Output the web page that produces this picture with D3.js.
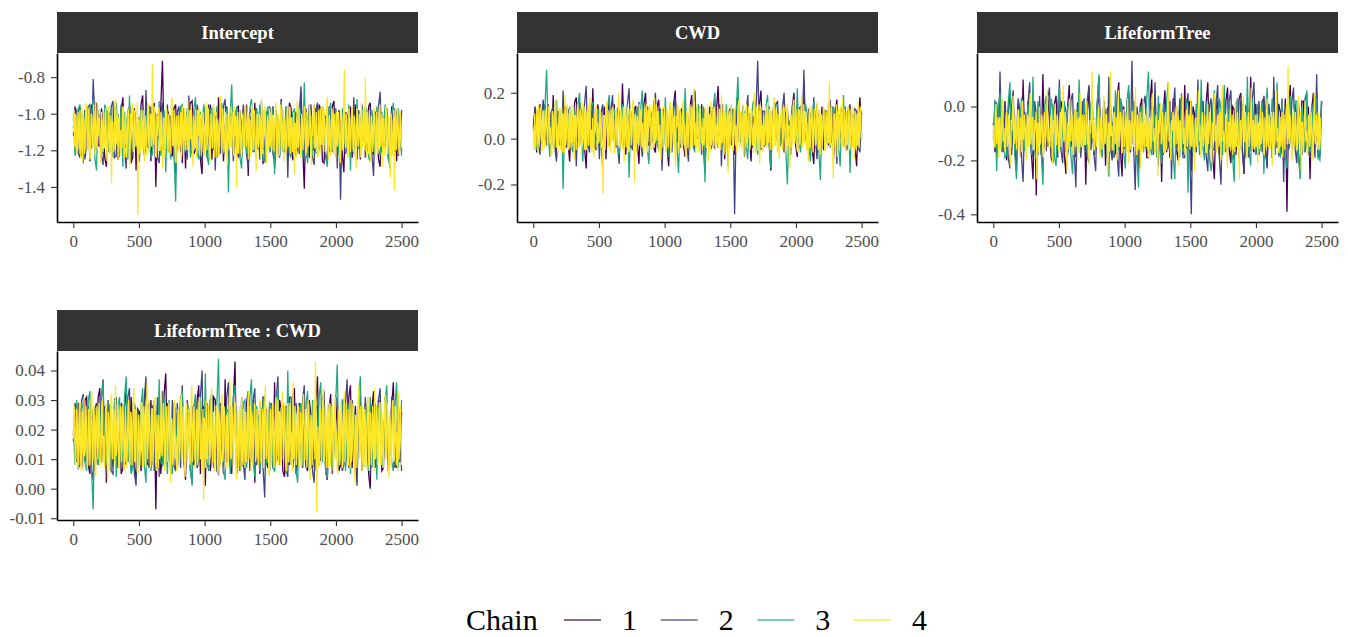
<!DOCTYPE html>
<html>
<head>
<meta charset="utf-8">
<script src="https://cdn.jsdelivr.net/npm/d3@7"></script>
<style>
  body { margin: 0; background: #fff; }
  svg { display: block; font-family: "Liberation Serif", "Times New Roman", serif; }
  svg text { font-family: "Liberation Serif", "Times New Roman", serif; }
</style>
</head>
<body>
<svg class="trace" width="1348" height="637"></svg>
<script>
const params = ["Intercept", "CWD", "LifeformTree", "LifeformTree : CWD"];
const chains = ["1", "2", "3", "4"];
const chainColors = ["#440154", "#414487", "#22A884", "#FDE725"];
const xTicks = [0, 500, 1000, 1500, 2000, 2500];
const nIter = 2500;

// y tick values / decimals per panel (same order as params)
const yTicks = [
  [-1.4, -1.2, -1.0, -0.8],
  [-0.2, 0.0, 0.2],
  [-0.4, -0.2, 0.0],
  [-0.01, 0.00, 0.01, 0.02, 0.03, 0.04]
];
const yDigits = [1, 1, 1, 2];

// draws. chains 1-3 ~every 12th iteration,
// chain 4 (drawn on top, it fills the band) ~every 5th
const interceptDraws = [
  [-1.08,-0.96,-1.21,-0.99,-0.97,-1.23,-1.15,-0.98,-1.19,-1.00,-1.26,-0.95,-1.02,-1.20,-0.94,-1.17,-1.18,-0.97,-1.05,-1.24,
   -1.29,-0.99,-1.00,-1.21,-1.13,-0.96,-1.09,-1.25,-1.22,-0.98,-0.91,-1.19,-1.16,-1.01,-0.96,-1.27,-1.24,-0.97,-1.31,-1.02,
   -1.12,-0.95,-0.90,-1.22,-1.19,-0.99,-1.03,-1.26,-1.06,-0.94,-1.40,-1.00,-1.14,-0.96,-0.71,-1.18,-1.14,-0.98,-1.01,-1.23,
   -1.23,-0.97,-0.95,-1.20,-1.10,-0.96,-1.27,-1.01,-1.30,-0.99,-1.17,-0.94,-0.93,-1.22,-1.20,-0.98,-1.09,-1.25,-1.33,-1.00,
   -0.98,-1.21,-1.13,-0.95,-1.25,-0.99,-1.02,-1.24,-0.91,-1.17,-0.99,-1.26,-1.07,-0.96,-1.28,-1.01,-1.00,-1.22,-1.15,-0.97,
   -0.96,-1.23,-1.22,-0.98,-1.11,-0.95,-1.34,-1.02,-1.03,-1.20,-0.94,-1.18,-1.19,-0.97,-1.08,-1.27,-1.26,-1.00,-0.99,-1.21,
   -1.14,-0.96,-1.30,-1.01,-1.05,-1.23,-0.92,-1.19,-1.21,-0.98,-1.10,-0.94,-0.97,-1.25,-1.24,-0.99,-1.02,-1.22,-0.89,-1.17,
   -1.41,-1.00,-1.06,-1.24,-0.95,-1.19,-1.20,-0.97,-1.12,-0.95,-0.98,-1.26,-1.27,-1.01,-1.04,-1.21,-1.17,-0.96,-0.93,-1.23,
   -1.23,-0.98,-1.09,-1.22,-1.32,-0.99,-1.01,-1.20,-0.96,-1.24,-1.18,-0.95,-1.13,-1.00,-1.25,-0.97,-1.00,-1.19,-1.15,-0.96,
   -0.94,-1.21,-1.22,-0.99,-1.07,-1.25,-1.29,-1.00,-1.03,-1.18,-0.97,-1.23,-1.19,-0.96,-1.11,-0.98,-1.26,-1.01,-1.05,-1.20],
  [-1.12,-0.97,-0.98,-1.22,-1.24,-1.00,-1.06,-1.25,-1.17,-0.96,-0.95,-1.19,-0.81,-1.03,-1.20,-0.98,-1.09,-1.23,-1.28,-0.99,
   -1.01,-1.21,-1.14,-0.96,-0.93,-1.24,-1.23,-1.00,-1.11,-0.95,-1.04,-1.20,-1.30,-0.98,-0.97,-1.26,-1.16,-0.99,-1.08,-1.22,
   -1.25,-0.97,-0.99,-1.23,-0.87,-1.18,-1.19,-0.96,-1.13,-0.98,-1.02,-1.24,-1.27,-1.00,-0.94,-1.20,-1.10,-0.95,-1.21,-1.01,
   -1.05,-1.22,-1.33,-0.99,-0.96,-1.21,-1.15,-0.97,-1.08,-1.25,-0.90,-1.17,-1.22,-0.98,-1.12,-0.95,-1.00,-1.23,-1.26,-1.00,
   -1.07,-1.24,-0.95,-1.19,-1.18,-0.97,-1.31,-1.01,-1.03,-1.22,-1.14,-0.96,-0.92,-1.20,-1.20,-0.99,-1.09,-1.26,-0.98,-1.21,
   -1.24,-0.98,-1.11,-0.95,-1.02,-1.23,-1.29,-1.00,-0.96,-1.21,-1.17,-0.97,-1.06,-1.25,-0.93,-1.18,-1.21,-0.99,-1.13,-0.96,
   -1.00,-1.22,-1.27,-0.98,-1.08,-1.24,-0.95,-1.20,-1.16,-0.96,-1.35,-1.01,-1.04,-1.21,-0.97,-1.23,-1.19,-0.99,-0.85,-1.17,
   -1.23,-0.97,-1.10,-0.95,-1.01,-1.24,-1.28,-0.98,-0.94,-1.20,-1.15,-1.00,-1.07,-1.25,-1.22,-0.96,-0.99,-1.21,-1.12,-0.97,
   -1.30,-1.00,-1.47,-0.99,-0.96,-1.22,-1.18,-0.97,-1.05,-1.23,-0.91,-1.19,-1.25,-0.98,-1.11,-0.95,-1.02,-1.24,-1.20,-1.01,
   -0.97,-1.22,-1.34,-0.99,-1.09,-0.96,-0.88,-1.21,-1.16,-0.98,-1.03,-1.25,-1.24,-1.00,-1.13,-0.97,-1.00,-1.23,-1.19,-0.98],
  [-1.02,-1.23,-1.18,-0.97,-0.95,-1.21,-1.27,-0.99,-1.09,-0.96,-1.13,-1.00,-0.92,-1.24,-1.31,-0.98,-1.06,-1.22,-1.20,-0.95,
   -0.98,-1.20,-1.15,-0.97,-1.24,-1.00,-0.94,-1.23,-1.11,-0.96,-1.29,-0.99,-1.03,-1.25,-0.90,-1.18,-1.19,-0.98,-1.08,-1.22,
   -1.26,-0.97,-1.00,-1.21,-1.14,-0.95,-0.96,-1.24,-1.22,-0.99,-1.05,-1.20,-0.93,-1.23,-1.17,-0.98,-1.32,-1.00,-1.07,-1.25,
   -0.99,-1.22,-1.48,-1.01,-1.12,-0.96,-0.95,-1.19,-1.21,-0.97,-1.04,-1.24,-1.16,-0.98,-0.91,-1.21,-1.25,-0.99,-1.10,-0.95,
   -1.01,-1.23,-1.28,-0.98,-0.97,-1.20,-1.13,-0.96,-1.23,-1.00,-0.94,-1.22,-1.08,-0.97,-1.43,-1.02,-0.84,-1.19,-1.18,-0.96,
   -1.06,-1.24,-1.30,-0.99,-0.99,-1.22,-1.15,-0.97,-0.92,-1.18,-1.21,-0.98,-1.11,-0.95,-1.02,-1.25,-1.26,-1.00,-0.96,-1.21,
   -1.14,-0.97,-1.33,-1.00,-1.04,-1.23,-0.93,-1.20,-1.19,-0.96,-1.09,-1.22,-1.24,-0.99,-0.98,-1.21,-1.12,-0.95,-1.01,-1.24,
   -0.83,-1.19,-1.27,-0.98,-1.07,-1.23,-0.95,-1.21,-1.22,-0.97,-1.13,-0.96,-1.00,-1.24,-1.29,-0.99,-0.94,-1.20,-1.17,-0.97,
   -1.05,-1.22,-1.25,-0.98,-0.97,-1.21,-1.10,-0.95,-1.31,-1.00,-1.03,-1.23,-0.92,-1.19,-1.20,-0.97,-1.15,-0.96,-0.99,-1.24,
   -1.26,-0.98,-1.08,-1.22,-0.96,-1.20,-1.23,-0.99,-1.12,-0.95,-1.01,-1.24,-1.30,-1.00,-0.94,-1.21,-1.18,-0.97,-1.06,-1.23],
  [-1.10,-0.98,-1.18,-1.00,-1.02,-1.21,-1.21,-0.99,-1.07,-1.19,-0.98,-1.24,-1.15,-0.96,-1.26,-1.01,-1.04,-1.22,-1.13,-0.94,
   -0.95,-1.20,-1.19,-0.97,-1.09,-1.25,-1.24,-1.00,-1.01,-1.18,-1.16,-0.95,-1.06,-1.23,-0.93,-1.16,-1.20,-0.98,-1.12,-1.02,
   -1.03,-1.24,-1.27,-0.99,-1.08,-1.21,-0.99,-1.19,-1.17,-0.97,-1.11,-1.26,-1.22,-0.96,-0.96,-1.22,-1.14,-1.01,-1.38,-1.04,
   -1.05,-1.21,-1.19,-0.95,-0.92,-1.17,-1.13,-0.98,-1.25,-1.02,-1.02,-1.23,-1.09,-1.19,-1.18,-0.96,-0.97,-1.25,-1.23,-0.99,
   -1.07,-1.24,-1.15,-0.97,-1.00,-1.22,-1.28,-1.00,-1.11,-0.96,-0.94,-1.21,-1.20,-0.98,-1.06,-1.18,-1.16,-0.94,-1.55,-1.03,
   -1.04,-1.22,-1.21,-0.98,-1.10,-1.20,-0.98,-1.17,-1.26,-1.01,-1.08,-1.23,-1.14,-0.95,-0.95,-1.21,-1.19,-1.00,-1.02,-1.18,
   -0.73,-1.13,-1.17,-0.96,-1.05,-1.23,-1.24,-1.01,-1.12,-0.97,-0.97,-1.20,-1.20,-0.99,-1.09,-1.21,-1.30,-1.02,-1.03,-1.24,
   -1.15,-0.97,-0.99,-1.19,-1.22,-1.00,-1.07,-1.22,-1.13,-0.95,-0.91,-1.17,-1.18,-0.98,-1.04,-1.25,-1.27,-1.01,-1.10,-1.21,
   -1.01,-1.18,-1.16,-0.99,-1.25,-1.03,-0.96,-1.23,-1.11,-0.97,-1.20,-1.00,-1.06,-1.20,-0.93,-1.17,-1.19,-0.98,-1.14,-0.95,
   -1.02,-1.22,-1.29,-1.01,-1.08,-1.19,-0.98,-1.24,-1.17,-0.98,-1.12,-0.96,-1.23,-1.02,-1.00,-1.21,-1.15,-0.99,-1.05,-1.23,
   -1.21,-0.98,-0.94,-1.20,-1.13,-0.97,-1.09,-1.22,-1.26,-1.00,-1.03,-1.19,-1.18,-0.95,-0.97,-1.24,-1.11,-0.99,-1.24,-1.03,
   -1.06,-1.23,-1.16,-0.98,-0.90,-1.18,-1.20,-0.97,-1.08,-1.21,-1.14,-0.99,-1.01,-1.22,-1.28,-1.00,-1.10,-1.20,-0.96,-1.17,
   -1.19,-0.99,-1.05,-1.21,-1.23,-0.96,-1.12,-1.01,-1.40,-1.04,-0.99,-1.22,-1.15,-0.98,-1.07,-1.23,-1.21,-1.00,-1.02,-1.19,
   -1.17,-0.97,-0.95,-1.18,-1.11,-0.99,-1.25,-1.02,-1.04,-1.23,-1.13,-0.95,-0.98,-1.20,-1.19,-0.98,-1.09,-1.21,-1.31,-1.01,
   -1.00,-1.19,-1.16,-1.00,-1.06,-1.24,-0.92,-1.15,-1.22,-0.98,-1.12,-0.96,-1.03,-1.22,-1.27,-1.01,-1.08,-1.20,-0.97,-1.18,
   -1.14,-0.97,-1.20,-1.01,-1.01,-1.21,-1.10,-0.99,-0.94,-1.17,-1.24,-1.00,-1.07,-1.23,-1.17,-0.95,-0.99,-1.20,-1.13,-0.98,
   -1.26,-1.02,-1.05,-1.22,-1.18,-0.98,-0.96,-1.18,-1.11,-0.96,-1.22,-1.03,-1.02,-1.21,-1.15,-0.99,-1.33,-1.05,-1.06,-1.24,
   -0.93,-1.17,-1.19,-0.97,-1.09,-1.22,-1.24,-1.00,-1.03,-1.20,-1.14,-0.96,-0.98,-1.23,-1.21,-0.99,-1.07,-1.18,-1.16,-0.95,
   -1.00,-1.21,-1.28,-1.01,-1.12,-0.97,-0.95,-1.19,-1.18,-0.99,-1.05,-1.24,-1.23,-0.98,-1.10,-1.22,-0.97,-1.17,-1.15,-0.96,
   -1.20,-0.98,-1.04,-1.21,-1.13,-0.95,-0.91,-1.19,-1.25,-1.01,-1.08,-1.23,-1.17,-0.97,-1.01,-1.20,-1.22,-1.00,-1.11,-1.24,
   -0.99,-1.18,-1.16,-0.99,-1.06,-1.23,-1.27,-0.98,-1.02,-1.20,-1.14,-0.96,-0.76,-1.15,-1.19,-1.00,-1.09,-1.22,-1.24,-0.97,
   -1.03,-1.21,-1.12,-0.99,-0.96,-1.19,-1.21,-1.01,-1.07,-1.22,-1.30,-0.97,-1.00,-1.18,-1.15,-1.00,-1.10,-1.24,-0.94,-1.17,
   -1.18,-0.98,-1.05,-1.20,-0.80,-1.14,-1.23,-0.99,-1.11,-1.22,-0.98,-1.19,-1.26,-1.01,-1.08,-1.21,-1.14,-0.97,-1.01,-1.23,
   -1.20,-0.99,-1.06,-1.22,-1.17,-0.97,-0.95,-1.18,-1.12,-1.00,-1.29,-1.02,-1.03,-1.23,-1.16,-0.96,-0.99,-1.19,-1.22,-1.01,
   -1.09,-1.21,-1.35,-1.00,-1.04,-1.23,-1.19,-0.98,-1.42,-1.03,-0.97,-1.20,-1.13,-0.97,-1.07,-1.22,-1.21,-0.99,-1.11,-1.19]
];

const cwdDraws = [
  [0.05,0.14,-0.06,0.12,0.15,-0.02,0.02,0.15,-0.03,0.13,0.11,-0.04,0.19,0.00,-0.08,0.12,0.07,-0.03,0.00,0.14,
   0.13,-0.02,-0.10,0.11,0.04,0.16,0.18,-0.01,-0.02,0.13,0.09,-0.04,-0.13,0.10,0.06,-0.03,0.22,0.01,-0.05,0.15,
   0.10,-0.03,0.01,0.14,-0.09,0.12,0.16,-0.01,0.03,0.15,-0.04,0.13,0.12,-0.02,0.24,0.02,-0.07,0.11,0.08,-0.04,
   -0.01,0.13,0.14,-0.02,-0.11,0.10,0.05,0.15,0.20,-0.01,-0.03,0.12,0.09,-0.04,-0.06,0.14,0.17,0.00,0.02,0.13,
   0.11,-0.03,-0.12,0.09,0.06,0.15,0.21,0.00,-0.02,0.12,0.13,-0.03,-0.08,0.11,0.04,0.14,0.19,-0.02,-0.05,0.13,
   0.07,-0.02,0.15,-0.01,-0.15,0.08,0.01,0.14,0.10,-0.03,-0.04,0.12,0.23,0.02,0.03,0.15,-0.09,0.10,0.12,-0.02,
   0.05,0.13,-0.07,0.11,0.18,-0.01,-0.01,0.14,0.09,-0.03,0.14,0.00,-0.10,0.10,0.06,-0.04,0.02,0.15,0.21,-0.02,
   -0.03,0.12,0.11,-0.03,-0.14,0.09,0.07,0.15,0.16,-0.02,0.00,0.13,-0.06,0.11,0.13,-0.01,0.04,0.14,0.20,-0.03,
   -0.08,0.10,0.08,-0.02,0.25,0.01,-0.02,0.13,0.10,-0.04,-0.11,0.09,0.15,-0.01,0.03,0.14,-0.05,0.12,0.12,-0.03,
   0.06,0.14,-0.09,0.11,0.17,-0.02,0.01,0.13,0.09,-0.03,-0.04,0.12,0.14,0.00,0.05,-0.04,-0.12,0.10,0.18,0.01],
  [0.03,0.13,0.12,-0.03,-0.07,0.11,0.17,-0.01,0.05,0.15,-0.02,0.12,0.14,-0.04,-0.10,0.10,0.08,-0.02,0.21,0.00,
   -0.04,0.13,0.10,-0.03,0.01,0.14,-0.12,0.09,0.16,-0.01,0.06,0.15,0.23,-0.02,-0.06,0.12,0.11,-0.04,0.02,0.13,
   -0.09,0.11,0.15,-0.02,0.04,0.14,-0.03,0.12,0.19,-0.01,0.07,-0.03,-0.11,0.10,0.13,-0.04,0.00,0.15,0.22,0.01,
   -0.05,0.13,0.09,-0.02,0.16,0.00,-0.08,0.11,0.03,0.14,0.12,-0.03,-0.01,0.15,0.20,-0.02,0.06,0.13,-0.14,0.09,
   0.10,-0.03,0.04,0.14,-0.06,0.12,0.18,-0.01,0.08,-0.04,-0.02,0.13,0.14,-0.02,-0.10,0.10,0.05,0.15,0.21,0.00,
   0.01,0.14,-0.07,0.11,0.13,-0.02,0.09,-0.03,-0.04,0.12,0.17,0.00,0.02,0.15,-0.12,0.09,0.11,-0.03,0.06,0.13,
   -0.03,0.12,-0.33,0.08,0.15,-0.02,0.04,0.14,-0.08,0.11,0.19,-0.01,0.07,-0.04,0.00,0.13,0.34,0.02,-0.05,0.12,
   0.12,-0.03,0.03,0.14,-0.10,0.10,0.16,-0.01,0.08,-0.04,-0.02,0.13,0.20,0.00,0.05,-0.03,-0.07,0.12,0.11,-0.02,
   0.02,0.13,0.14,-0.02,0.30,0.03,-0.04,0.12,0.09,-0.03,0.18,0.00,-0.09,0.11,0.06,-0.04,0.13,-0.01,-0.01,0.14,
   0.17,-0.02,0.04,0.13,-0.11,0.10,0.10,-0.03,0.07,0.14,-0.05,0.12,0.15,-0.01,0.01,0.13,0.12,-0.04,-0.06,0.11],
  [0.06,-0.03,-0.05,0.12,0.13,-0.02,0.02,0.14,0.30,0.01,-0.08,0.11,0.10,-0.04,0.17,0.00,-0.03,0.13,-0.22,0.09,
   0.08,-0.02,0.14,-0.03,-0.06,0.12,0.04,0.15,0.20,-0.01,-0.10,0.10,0.07,-0.03,0.01,0.14,0.16,0.00,-0.04,0.13,
   0.11,-0.02,-0.13,0.09,0.05,0.14,0.19,-0.01,0.00,0.13,0.09,-0.04,-0.07,0.11,0.15,-0.02,0.03,0.15,-0.17,0.08,
   0.12,-0.03,0.06,0.14,-0.02,0.12,0.21,0.00,0.08,-0.04,-0.11,0.10,0.04,0.15,0.14,-0.02,-0.05,0.12,0.10,-0.03,
   0.18,0.00,-0.08,0.11,0.02,0.14,0.13,-0.03,-0.15,0.09,0.07,-0.02,0.22,0.01,-0.01,0.13,0.09,-0.04,-0.06,0.12,
   0.15,-0.02,0.03,0.14,-0.19,0.08,0.11,-0.03,0.05,0.13,0.20,-0.01,-0.04,0.12,0.08,-0.03,0.01,0.15,-0.12,0.10,
   0.14,-0.03,0.06,0.13,0.27,0.02,-0.02,0.14,0.10,-0.03,-0.09,0.11,0.04,0.15,0.17,-0.01,-0.07,0.12,0.12,-0.04,
   0.00,0.14,0.19,-0.02,-0.13,0.09,0.07,0.15,0.15,-0.03,-0.03,0.12,0.09,-0.04,-0.20,0.08,0.05,0.14,0.13,-0.02,
   0.22,0.00,-0.06,0.12,0.03,0.15,0.11,-0.03,-0.10,0.10,0.16,-0.02,0.07,-0.04,-0.18,0.09,0.10,-0.03,0.02,0.13,
   -0.04,0.12,0.14,-0.02,0.08,-0.03,-0.12,0.10,0.19,-0.01,0.05,0.14,-0.15,0.09,0.11,-0.03,0.06,0.13,0.00,0.12],
  [0.04,-0.05,0.11,-0.04,-0.03,0.13,0.08,-0.06,0.15,-0.02,0.01,0.14,0.07,-0.05,-0.05,0.12,0.12,-0.04,0.03,0.13,
   0.09,-0.03,-0.02,0.14,0.14,-0.02,0.05,-0.07,-0.07,0.12,0.10,-0.05,0.02,0.15,0.17,-0.04,0.06,-0.06,-0.01,0.13,
   0.13,-0.05,0.04,0.14,-0.06,0.11,0.08,-0.06,0.19,-0.03,0.00,0.15,0.11,-0.05,-0.04,0.13,0.07,-0.04,0.15,-0.02,
   0.02,0.14,-0.09,0.10,0.10,-0.05,0.05,0.15,0.13,-0.04,-0.02,0.13,0.08,-0.07,0.16,-0.02,0.01,0.14,-0.05,0.11,
   0.12,-0.05,0.06,0.15,-0.03,0.12,0.18,-0.04,0.04,-0.06,0.09,-0.03,-0.08,0.11,0.03,0.14,0.14,-0.05,0.07,-0.02,
   -0.01,0.13,0.11,-0.04,0.05,-0.06,-0.24,0.10,0.10,-0.05,0.02,0.15,0.16,-0.03,-0.04,0.12,0.08,-0.06,0.13,-0.01,
   0.00,0.14,0.07,-0.06,-0.06,0.12,0.12,-0.03,0.04,0.15,0.20,-0.04,-0.02,0.13,0.09,-0.05,0.06,0.14,-0.10,0.09,
   0.14,-0.04,0.03,0.14,0.08,-0.06,-0.05,0.13,0.11,-0.03,0.01,0.16,0.17,-0.05,-0.19,0.11,0.06,-0.06,0.10,-0.02,
   0.02,0.15,-0.03,0.12,0.13,-0.04,0.07,-0.05,-0.07,0.14,0.09,-0.03,0.15,-0.06,0.00,0.13,0.05,0.15,0.12,-0.05,
   -0.04,0.14,0.08,-0.04,0.18,-0.02,0.02,0.15,-0.01,0.12,0.11,-0.06,0.06,-0.03,-0.09,0.11,0.14,-0.04,0.04,0.14,
   0.09,-0.05,-0.06,0.12,0.12,-0.04,0.03,0.15,0.16,-0.06,-0.02,0.14,0.07,-0.03,0.10,-0.05,-0.12,0.10,0.05,0.15,
   0.13,-0.06,0.01,0.13,0.08,-0.04,-0.04,0.14,0.17,-0.03,0.06,-0.05,-0.08,0.12,0.11,-0.04,0.02,0.14,0.15,-0.05,
   0.04,0.14,-0.03,0.11,0.22,-0.03,0.07,-0.06,0.00,0.15,0.10,-0.04,-0.06,0.13,0.14,-0.02,0.05,-0.05,0.09,-0.03,
   -0.01,0.14,0.12,-0.04,0.03,0.15,-0.10,0.11,0.08,-0.06,0.16,-0.03,0.01,0.13,-0.04,0.14,0.11,-0.05,0.06,-0.02,
   0.14,-0.04,-0.02,0.13,0.07,-0.05,0.19,-0.02,0.03,0.15,-0.07,0.12,0.10,-0.06,0.05,0.14,-0.15,0.10,0.12,-0.04,
   0.02,0.15,0.08,-0.05,-0.05,0.13,0.13,-0.03,0.06,-0.06,0.00,0.14,0.17,-0.04,-0.03,0.12,0.09,-0.05,0.04,0.15,
   -0.08,0.11,0.11,-0.04,0.15,-0.02,0.01,0.14,0.07,-0.05,-0.02,0.13,0.12,-0.03,0.05,-0.06,0.20,-0.01,-0.06,0.14,
   0.09,-0.05,0.03,0.15,-0.11,0.11,0.14,-0.04,0.06,-0.06,0.10,-0.03,-0.01,0.14,0.08,-0.04,0.16,-0.02,0.02,0.13,
   -0.05,0.12,0.12,-0.05,0.04,0.14,0.18,-0.03,-0.03,0.13,0.07,-0.06,0.11,-0.04,-0.09,0.11,0.05,0.15,0.13,-0.05,
   0.01,0.14,0.09,-0.06,-0.04,0.12,0.15,-0.03,0.06,-0.05,-0.13,0.10,0.10,-0.04,0.03,0.15,0.17,-0.02,0.00,0.13,
   0.08,-0.05,-0.06,0.13,0.12,-0.03,0.04,0.14,0.19,-0.04,0.02,0.15,-0.02,0.12,0.11,-0.05,0.07,-0.02,-0.10,0.10,
   0.14,-0.04,0.05,0.14,0.09,-0.06,-0.03,0.12,0.13,-0.03,0.01,0.15,0.16,-0.05,0.06,0.13,-0.07,0.11,0.10,-0.04,
   0.03,0.14,0.12,-0.05,-0.05,0.12,0.08,-0.04,0.15,-0.02,0.25,-0.03,-0.01,0.14,0.07,-0.06,-0.17,0.10,0.11,-0.04,
   0.05,0.15,-0.08,0.11,0.13,-0.05,0.02,0.14,0.09,-0.04,0.18,-0.03,-0.04,0.13,0.06,-0.06,0.12,-0.03,0.00,0.14,
   0.10,-0.05,-0.02,0.13,0.07,-0.04,0.14,-0.02,-0.09,0.12,0.04,-0.05,0.11,-0.03,0.16,-0.04,0.01,0.14,0.06,-0.01]
];

const lifeformDraws = [
  [-0.06,-0.17,-0.15,0.00,0.03,-0.16,-0.10,0.02,-0.20,-0.01,0.06,-0.18,-0.04,-0.15,-0.24,0.01,-0.09,-0.19,0.10,-0.14,
   -0.13,0.02,-0.02,-0.17,-0.27,-0.01,-0.33,0.00,-0.07,-0.18,0.12,-0.15,-0.16,0.03,-0.05,-0.19,-0.21,0.01,0.04,-0.16,
   -0.11,0.02,-0.01,-0.18,-0.25,0.00,0.08,-0.15,-0.08,-0.19,-0.18,0.01,0.02,-0.17,-0.12,0.03,-0.29,-0.02,0.07,-0.16,
   -0.03,-0.18,-0.14,0.01,0.11,-0.15,-0.09,0.02,-0.22,-0.01,0.00,-0.17,-0.06,-0.19,-0.17,0.03,0.09,-0.16,-0.26,0.00,
   -0.10,0.01,0.05,-0.17,-0.13,0.02,-0.04,-0.18,-0.23,0.00,0.03,-0.15,-0.08,-0.19,-0.19,0.02,0.10,-0.16,-0.02,-0.18,
   -0.15,0.01,-0.28,-0.02,0.06,-0.17,-0.07,-0.19,-0.12,0.03,0.01,-0.16,-0.20,0.00,-0.05,-0.18,0.08,-0.15,-0.16,0.02,
   -0.24,0.00,-0.03,-0.17,0.04,-0.15,-0.11,0.02,-0.18,0.01,0.09,-0.16,-0.06,-0.19,-0.27,-0.01,0.02,-0.18,-0.09,0.03,
   -0.14,0.02,0.07,-0.16,-0.21,0.00,-0.01,-0.18,-0.10,0.03,0.05,-0.17,-0.25,-0.02,-0.07,-0.19,0.11,-0.15,-0.17,0.01,
   -0.04,-0.18,-0.12,0.02,0.03,-0.16,-0.22,0.00,-0.08,-0.19,0.06,-0.15,-0.15,0.01,-0.02,-0.17,-0.20,0.03,-0.39,-0.01,
   0.08,-0.16,-0.11,0.01,-0.06,-0.18,-0.24,0.02,0.02,-0.17,-0.13,0.00,-0.27,-0.01,0.05,-0.15,-0.09,-0.19,-0.18,0.02],
  [-0.10,0.02,0.01,-0.17,0.13,-0.15,-0.17,0.01,-0.05,-0.19,-0.23,0.00,0.06,-0.16,-0.12,0.03,-0.01,-0.18,-0.28,-0.02,
   -0.08,0.01,0.09,-0.16,-0.19,0.02,-0.03,-0.18,0.04,-0.15,-0.25,0.00,-0.11,0.03,0.07,-0.17,-0.15,0.01,-0.06,-0.19,
   0.10,-0.16,-0.21,0.01,-0.02,-0.18,-0.13,0.02,0.05,-0.17,-0.30,0.00,-0.09,-0.19,0.02,-0.15,-0.17,0.03,0.08,-0.16,
   -0.07,-0.18,-0.24,0.01,0.03,-0.17,-0.12,0.02,-0.04,-0.19,0.11,-0.15,-0.20,0.00,-0.08,-0.18,-0.26,0.03,0.00,-0.16,
   -0.14,0.02,0.06,-0.17,0.17,-0.15,-0.31,0.00,-0.05,-0.19,-0.10,0.01,0.04,-0.16,-0.18,0.03,-0.02,-0.18,0.09,-0.15,
   -0.22,0.01,-0.07,-0.18,0.01,-0.16,-0.15,0.02,-0.27,-0.01,0.07,-0.17,-0.11,0.03,-0.03,-0.19,-0.19,0.00,0.05,-0.15,
   -0.40,-0.02,-0.09,-0.17,0.10,-0.15,-0.13,0.02,-0.06,-0.18,-0.24,0.00,0.03,-0.16,-0.16,0.01,0.08,-0.19,-0.29,-0.01,
   -0.04,-0.17,-0.12,0.02,0.06,-0.15,-0.20,0.01,-0.08,-0.19,0.02,-0.16,-0.25,0.00,-0.01,-0.18,-0.14,0.03,0.09,-0.15,
   -0.18,0.02,-0.06,-0.17,0.04,-0.16,-0.23,0.01,-0.10,-0.19,0.11,-0.15,-0.03,-0.18,-0.17,0.03,-0.28,-0.01,0.00,-0.16,
   -0.13,0.02,0.07,-0.16,-0.21,0.01,-0.05,-0.18,-0.11,0.03,0.05,-0.17,-0.19,0.00,-0.08,-0.19,0.12,-0.15,-0.15,0.02],
  [-0.12,0.02,-0.24,0.00,0.05,-0.17,-0.07,-0.19,-0.18,0.01,0.09,-0.15,-0.03,-0.18,-0.27,-0.01,-0.10,0.03,0.02,-0.16,
   -0.15,0.01,-0.05,-0.18,0.11,-0.16,-0.20,0.02,-0.08,-0.17,-0.29,0.00,0.04,-0.15,-0.13,0.03,-0.01,-0.19,-0.22,0.01,
   0.07,-0.16,-0.09,0.02,-0.17,0.00,0.01,-0.18,-0.25,-0.01,-0.04,-0.17,0.10,-0.15,-0.14,0.03,-0.06,-0.19,-0.21,0.01,
   0.03,-0.17,-0.11,0.02,0.12,-0.15,-0.19,0.00,-0.02,-0.18,-0.26,0.01,-0.08,-0.19,0.06,-0.16,-0.16,0.03,-0.03,-0.17,
   -0.23,0.01,0.08,-0.16,-0.12,0.02,-0.05,-0.18,-0.30,-0.01,0.00,-0.17,-0.10,0.03,0.13,-0.15,-0.18,0.00,-0.07,-0.19,
   0.04,-0.16,-0.21,0.01,-0.13,0.02,0.09,-0.15,-0.02,-0.18,-0.27,0.00,-0.09,-0.19,0.05,-0.17,-0.15,0.03,-0.32,-0.02,
   0.02,-0.17,-0.11,0.01,-0.04,-0.18,0.10,-0.15,-0.20,0.02,-0.07,-0.19,-0.24,0.00,0.06,-0.16,-0.14,0.03,-0.01,-0.18,
   0.08,-0.15,-0.17,0.02,-0.09,-0.18,-0.28,0.00,0.03,-0.17,-0.12,0.01,-0.05,-0.19,0.11,-0.16,-0.22,0.03,-0.08,-0.18,
   0.01,-0.17,-0.16,0.02,-0.25,-0.01,0.07,-0.15,-0.10,0.03,-0.03,-0.18,0.09,-0.16,-0.19,0.01,-0.06,-0.19,-0.23,0.00,
   0.04,-0.16,-0.13,0.02,0.02,-0.18,-0.27,0.00,-0.08,-0.17,0.06,-0.15,-0.17,0.01,-0.11,0.03,0.03,-0.19,-0.20,0.02],
  [-0.07,-0.15,-0.15,-0.03,0.01,-0.14,-0.10,-0.04,-0.19,-0.05,-0.04,-0.16,-0.12,-0.02,0.03,-0.13,-0.08,-0.16,-0.17,-0.04,
   -0.02,-0.15,-0.13,-0.03,-0.06,-0.17,-0.22,-0.05,-0.09,-0.02,0.04,-0.13,-0.14,-0.03,-0.05,-0.16,-0.11,-0.04,-0.01,-0.15,
   -0.18,-0.04,-0.08,-0.17,0.02,-0.12,-0.12,-0.03,-0.06,-0.16,-0.20,-0.05,-0.03,-0.15,-0.15,-0.02,0.05,-0.14,-0.10,-0.04,
   -0.04,-0.16,-0.16,-0.05,-0.09,-0.02,-0.27,-0.06,-0.07,-0.17,0.00,-0.14,-0.13,-0.03,-0.05,-0.15,-0.19,-0.04,-0.02,-0.16,
   -0.11,-0.03,0.06,-0.13,-0.08,-0.16,-0.15,-0.04,-0.03,-0.15,-0.21,-0.05,-0.10,-0.02,0.01,-0.14,-0.14,-0.03,-0.06,-0.16,
   -0.17,-0.04,-0.02,-0.15,-0.09,-0.03,0.08,-0.13,-0.12,-0.02,-0.05,-0.17,-0.24,-0.06,-0.08,-0.16,0.03,-0.12,-0.13,-0.03,
   -0.06,-0.16,-0.18,-0.04,-0.01,-0.15,-0.11,-0.02,-0.20,-0.06,-0.04,-0.17,0.05,-0.13,-0.15,-0.03,-0.09,-0.16,-0.03,-0.14,
   -0.14,-0.03,0.02,-0.14,-0.07,-0.17,-0.22,-0.05,-0.10,-0.02,0.13,-0.12,-0.05,-0.16,-0.16,-0.04,-0.08,-0.15,-0.12,-0.03,
   0.00,-0.15,-0.19,-0.04,-0.06,-0.16,-0.11,-0.02,0.04,-0.13,-0.14,-0.03,-0.03,-0.15,-0.25,-0.06,-0.09,-0.17,0.13,-0.11,
   -0.07,-0.16,-0.16,-0.03,-0.02,-0.14,-0.12,-0.04,-0.20,-0.05,0.06,-0.15,-0.10,-0.02,-0.05,-0.17,-0.17,-0.04,-0.01,-0.15,
   -0.13,-0.03,-0.08,-0.17,0.03,-0.13,-0.21,-0.05,-0.06,-0.16,-0.14,-0.02,-0.02,-0.15,-0.10,-0.04,0.07,-0.14,-0.18,-0.03,
   -0.04,-0.16,-0.11,-0.02,-0.23,-0.06,-0.07,-0.17,0.02,-0.13,-0.15,-0.03,-0.09,-0.15,-0.01,-0.14,-0.19,-0.04,-0.05,-0.16,
   -0.12,-0.02,0.05,-0.13,-0.08,-0.17,-0.16,-0.04,-0.03,-0.15,-0.26,-0.05,-0.10,-0.03,0.01,-0.14,-0.13,-0.02,-0.07,-0.17,
   -0.17,-0.04,-0.02,-0.16,-0.11,-0.03,0.09,-0.13,-0.06,-0.17,-0.20,-0.05,-0.09,-0.02,-0.04,-0.15,-0.14,-0.03,0.00,-0.14,
   -0.10,-0.03,-0.22,-0.06,-0.05,-0.16,-0.13,-0.02,0.04,-0.14,-0.08,-0.17,-0.18,-0.04,-0.01,-0.15,-0.12,-0.03,-0.06,-0.16,
   0.03,-0.14,-0.15,-0.03,-0.09,-0.17,-0.24,-0.05,-0.04,-0.15,-0.11,-0.02,0.06,-0.13,-0.07,-0.16,-0.19,-0.04,-0.02,-0.15,
   -0.13,-0.03,-0.08,-0.17,-0.17,-0.04,0.01,-0.14,-0.10,-0.02,-0.05,-0.16,-0.21,-0.06,-0.12,-0.03,0.05,-0.13,-0.07,-0.17,
   -0.16,-0.04,-0.03,-0.15,-0.11,-0.02,-0.20,-0.05,0.08,-0.13,-0.09,-0.17,-0.14,-0.03,-0.04,-0.16,-0.23,-0.06,-0.06,-0.15,
   -0.01,-0.16,-0.12,-0.03,-0.18,-0.05,-0.07,-0.17,0.02,-0.14,-0.15,-0.02,-0.09,-0.16,-0.27,-0.06,-0.05,-0.15,-0.10,-0.03,
   0.04,-0.13,-0.13,-0.02,-0.06,-0.17,-0.19,-0.04,-0.02,-0.15,-0.11,-0.03,0.07,-0.14,-0.16,-0.05,-0.08,-0.16,-0.03,-0.15,
   -0.14,-0.03,-0.21,-0.06,-0.07,-0.16,0.00,-0.14,-0.12,-0.02,-0.05,-0.17,-0.18,-0.04,-0.09,-0.15,0.03,-0.13,-0.15,-0.03,
   -0.06,-0.16,-0.10,-0.02,-0.22,-0.05,-0.02,-0.15,-0.13,-0.03,0.06,-0.13,-0.08,-0.17,-0.17,-0.04,-0.04,-0.15,-0.11,-0.02,
   -0.19,-0.05,-0.03,-0.16,-0.09,-0.02,0.01,-0.14,0.15,-0.11,-0.14,-0.03,-0.07,-0.16,-0.20,-0.04,-0.01,-0.15,-0.12,-0.02,
   -0.05,-0.16,-0.16,-0.03,0.04,-0.14,-0.10,-0.02,-0.24,-0.06,-0.06,-0.17,-0.13,-0.03,0.02,-0.13,-0.09,-0.16,-0.18,-0.04,
   -0.03,-0.15,-0.11,-0.02,-0.07,-0.17,-0.20,-0.05,0.05,-0.13,-0.14,-0.03,-0.08,-0.16,-0.02,-0.14,-0.16,-0.04,-0.10,-0.15]
];

const interactionDraws = [
  [0.018,0.028,0.009,0.029,0.027,0.007,0.014,0.030,0.031,0.008,0.005,0.027,0.021,0.006,0.012,0.031,0.034,0.009,0.016,0.028,
   0.002,0.026,0.024,0.006,0.010,0.030,0.029,0.008,0.019,0.005,0.007,0.028,0.033,0.009,0.015,0.031,0.022,0.007,0.004,0.027,
   0.026,0.006,0.011,0.029,0.036,0.008,0.017,0.030,0.008,0.027,-0.007,0.026,0.030,0.005,0.013,0.032,0.039,0.009,0.020,0.007,
   0.006,0.029,0.025,0.007,0.014,0.031,0.032,0.009,0.003,0.027,0.019,0.006,0.028,0.008,0.010,0.030,0.035,0.005,0.016,0.028,
   0.001,0.027,0.023,0.006,0.012,0.031,0.030,0.008,0.008,0.029,0.021,0.005,0.037,0.009,0.015,0.028,0.005,0.030,0.043,0.007,
   0.018,0.006,0.026,0.008,0.009,0.029,0.033,0.007,0.013,0.030,0.002,0.026,0.024,0.005,0.017,0.031,0.031,0.009,0.007,0.028,
   0.020,0.007,0.036,0.009,0.011,0.030,0.027,0.006,0.004,0.028,0.022,0.008,0.014,0.031,0.034,0.005,0.009,0.029,0.019,0.007,
   0.029,0.008,0.006,0.030,0.025,0.007,0.016,0.029,0.038,0.009,0.010,0.031,0.023,0.006,0.003,0.027,0.032,0.008,0.015,0.030,
   0.021,0.006,0.008,0.029,0.030,0.009,0.013,0.031,0.035,0.007,0.018,0.028,0.005,0.030,0.027,0.008,0.011,0.029,0.024,0.005,
   0.000,0.027,0.033,0.008,0.016,0.030,0.029,0.006,0.007,0.031,0.022,0.009,0.012,0.028,0.036,0.007,0.017,0.029,0.009,0.026],
  [0.016,0.029,0.026,0.007,0.008,0.030,0.032,0.009,0.012,0.028,0.021,0.006,0.003,0.027,0.029,0.008,0.017,0.031,0.037,0.009,
   0.010,0.030,0.023,0.006,0.005,0.028,0.031,0.007,0.015,0.029,0.027,0.008,0.009,0.031,0.034,0.006,0.019,0.005,0.001,0.027,
   0.024,0.007,0.013,0.030,0.038,0.009,0.007,0.028,0.028,0.006,0.016,0.031,0.004,0.027,0.033,0.008,0.011,0.029,0.022,0.005,
   0.030,0.008,0.006,0.029,0.019,0.007,0.035,0.009,0.014,0.030,0.025,0.006,0.002,0.028,0.029,0.007,0.009,0.031,0.040,0.008,
   0.017,0.029,0.011,0.030,0.032,0.007,0.020,0.006,0.005,0.028,0.027,0.009,0.013,0.031,0.036,0.008,0.008,0.029,0.024,0.005,
   0.018,0.007,0.031,0.009,0.003,0.028,0.022,0.006,0.015,0.030,0.034,0.008,0.010,0.029,0.026,0.007,-0.003,0.027,0.019,0.006,
   0.029,0.008,0.007,0.030,0.038,0.009,0.014,0.028,0.023,0.006,0.004,0.031,0.031,0.007,0.012,0.029,0.025,0.008,0.017,0.030,
   0.035,0.007,0.009,0.029,0.021,0.006,0.002,0.027,0.028,0.008,0.016,0.030,0.033,0.009,0.006,0.028,0.024,0.005,0.013,0.031,
   0.030,0.008,0.019,0.006,0.008,0.029,0.037,0.007,0.011,0.030,0.026,0.009,0.001,0.027,0.032,0.006,0.015,0.031,0.022,0.008,
   0.005,0.028,0.029,0.007,0.018,0.030,0.034,0.008,0.010,0.029,0.023,0.006,0.014,0.031,0.031,0.009,0.007,0.028,0.020,0.006],
  [0.020,0.008,0.030,0.007,0.012,0.029,0.027,0.009,0.006,0.030,0.033,0.006,-0.007,0.027,0.024,0.008,0.015,0.031,0.036,0.007,
   0.009,0.029,0.028,0.006,0.018,0.030,0.004,0.028,0.031,0.008,0.013,0.031,0.038,0.009,0.021,0.005,0.007,0.029,0.026,0.007,
   0.016,0.028,0.034,0.008,0.002,0.027,0.029,0.006,0.011,0.030,0.023,0.007,0.037,0.009,0.008,0.031,0.019,0.005,0.030,0.008,
   0.005,0.029,0.025,0.007,0.014,0.030,0.033,0.009,0.010,0.028,0.027,0.006,0.001,0.027,0.032,0.008,0.017,0.031,0.022,0.006,
   0.039,0.009,0.006,0.030,0.028,0.007,0.013,0.029,0.044,0.008,0.018,0.006,0.003,0.027,0.026,0.005,0.012,0.031,0.035,0.008,
   0.020,0.006,0.008,0.029,0.030,0.007,0.015,0.031,0.037,0.009,0.004,0.028,0.024,0.006,0.011,0.030,0.031,0.008,0.017,0.029,
   0.028,0.007,0.006,0.030,0.034,0.008,0.013,0.029,0.021,0.005,0.040,0.009,0.009,0.031,0.025,0.006,0.002,0.027,0.029,0.008,
   0.016,0.028,0.033,0.007,0.007,0.030,0.023,0.006,0.012,0.031,0.036,0.009,0.019,0.005,0.004,0.028,0.027,0.007,0.014,0.029,
   0.042,0.008,0.010,0.030,0.030,0.006,0.018,0.029,0.005,0.027,0.026,0.007,0.013,0.031,0.038,0.009,0.008,0.028,0.022,0.006,
   0.031,0.007,0.016,0.029,0.003,0.027,0.028,0.008,0.011,0.030,0.035,0.006,0.020,0.009,0.006,0.028,0.036,0.007,0.015,0.030],
  [0.017,0.028,0.026,0.008,0.010,0.027,0.022,0.007,0.013,0.029,0.029,0.010,0.006,0.026,0.020,0.006,0.031,0.011,0.014,0.028,
   0.019,0.007,0.008,0.027,0.025,0.008,0.016,0.029,0.033,0.009,0.011,0.028,0.023,0.006,0.004,0.025,0.028,0.010,0.015,0.029,
   0.021,0.008,0.009,0.028,0.030,0.009,0.018,0.007,0.012,0.029,0.027,0.010,0.003,0.026,0.024,0.006,0.017,0.030,0.032,0.011,
   0.010,0.027,0.022,0.008,0.035,0.011,0.014,0.029,0.019,0.007,0.007,0.026,0.028,0.009,0.016,0.028,0.025,0.006,0.011,0.027,
   0.020,0.007,0.013,0.028,0.030,0.010,0.008,0.026,0.023,0.008,0.018,0.029,0.034,0.009,0.011,0.027,0.026,0.006,0.005,0.025,
   0.021,0.008,0.015,0.029,0.029,0.007,0.012,0.028,0.024,0.009,0.007,0.026,0.036,0.010,0.017,0.030,0.022,0.007,0.010,0.027,
   0.027,0.008,0.014,0.028,0.031,0.009,0.006,0.025,0.019,0.007,0.025,0.010,0.012,0.027,0.033,0.011,0.016,0.029,0.021,0.006,
   0.009,0.026,0.028,0.009,0.015,0.029,0.024,0.007,0.002,0.024,0.023,0.008,0.011,0.028,0.030,0.010,0.018,0.006,0.007,0.027,
   0.026,0.008,0.013,0.029,0.032,0.010,0.017,0.028,0.022,0.007,0.004,0.025,0.029,0.009,0.014,0.027,0.024,0.008,0.010,0.029,
   0.035,0.009,0.016,0.028,0.020,0.007,0.008,0.026,0.027,0.008,0.013,0.029,0.031,0.010,0.019,0.006,0.006,0.027,-0.004,0.024,
   0.022,0.007,0.030,0.010,0.011,0.028,0.025,0.008,0.016,0.029,0.034,0.009,0.009,0.026,0.021,0.006,0.014,0.028,0.028,0.008,
   0.005,0.026,0.024,0.007,0.018,0.029,0.032,0.009,0.012,0.028,0.026,0.010,0.007,0.025,0.020,0.007,0.015,0.030,0.037,0.011,
   0.010,0.028,0.023,0.008,0.017,0.029,0.029,0.009,0.003,0.025,0.027,0.007,0.013,0.028,0.021,0.006,0.031,0.010,0.008,0.027,
   0.019,0.007,0.026,0.009,0.012,0.029,0.033,0.010,0.016,0.028,0.006,0.026,0.024,0.008,0.018,0.029,0.028,0.009,0.011,0.027,
   0.022,0.008,0.014,0.028,0.030,0.009,0.009,0.027,0.025,0.007,0.017,0.029,0.035,0.010,0.012,0.028,0.020,0.006,0.004,0.025,
   0.027,0.008,0.015,0.029,0.023,0.007,0.010,0.028,0.031,0.009,0.018,0.030,0.008,0.026,0.026,0.008,0.013,0.028,0.033,0.010,
   0.016,0.029,0.021,0.007,0.006,0.027,0.029,0.009,0.012,0.029,0.024,0.008,0.019,0.006,0.036,0.010,0.011,0.028,0.022,0.008,
   0.014,0.028,0.028,0.008,0.007,0.026,0.025,0.007,0.017,0.029,0.032,0.009,0.010,0.027,0.020,0.007,0.015,0.030,0.027,0.008,
   0.003,0.025,0.023,0.008,0.013,0.029,0.030,0.010,0.043,0.024,-0.008,0.011,0.021,0.007,0.009,0.027,0.026,0.008,0.016,0.029,
   0.034,0.009,0.012,0.028,0.024,0.007,0.018,0.029,0.007,0.026,0.029,0.008,0.015,0.028,0.022,0.006,0.011,0.027,0.031,0.010,
   0.019,0.007,0.005,0.026,0.027,0.008,0.014,0.029,0.023,0.007,0.010,0.028,0.033,0.009,0.017,0.029,0.025,0.008,0.008,0.027,
   0.021,0.007,0.030,0.009,0.013,0.029,0.026,0.008,0.002,0.025,0.024,0.007,0.016,0.029,0.035,0.010,0.012,0.028,0.020,0.006,
   0.028,0.008,0.009,0.027,0.022,0.007,0.017,0.029,0.031,0.009,0.006,0.026,0.025,0.008,0.014,0.028,0.019,0.006,0.034,0.010,
   0.011,0.028,0.024,0.008,0.018,0.029,0.029,0.009,0.008,0.026,0.021,0.007,0.015,0.028,0.032,0.010,0.013,0.029,0.026,0.008,
   0.004,0.025,0.022,0.007,0.016,0.029,0.030,0.009,0.010,0.028,0.027,0.008,0.019,0.006,0.033,0.010,0.014,0.028,0.021,0.008]
];

const draws = [interceptDraws, cwdDraws, lifeformDraws, interactionDraws];

const panelW = 361;
const stripH = 41;
const plotH = 169;
const colX = [57, 517, 977];
const rowY = [12, 310];
const serif = '"Liberation Serif", "Times New Roman", serif';

const svg = d3.select('svg.trace');

params.forEach((param, k) => {
  const left = colX[k % 3];
  const top = rowY[Math.floor(k / 3)];
  const g = svg.append('g')
    .attr('class', 'panel')
    .attr('transform', `translate(${left}, ${top})`);

  const series = draws[k];

  // ggplot-style 5% expansion on both axes
  const [lo, hi] = d3.extent(series.flat());
  const yPad = (hi - lo) * 0.05;
  const y = d3.scaleLinear()
    .domain([lo - yPad, hi + yPad])
    .range([stripH + plotH, stripH]);

  const xPad = (nIter - 1) * 0.05;
  const x = d3.scaleLinear()
    .domain([1 - xPad, nIter + xPad])
    .range([0, panelW]);

  // strip
  g.append('rect')
    .attr('x', 0)
    .attr('y', 0)
    .attr('width', panelW)
    .attr('height', stripH)
    .style('fill', '#333333');

  g.append('text')
    .text(param)
    .attr('x', panelW / 2)
    .attr('y', stripH / 2)
    .attr('dy', '0.35em')
    .attr('text-anchor', 'middle')
    .attr('font-family', serif)
    .style('font-size', '18.5px')
    .style('font-weight', 'bold')
    .style('fill', '#ffffff');

  // traces, chain 1 first so chain 4 ends on top
  const line = d3.line()
    .x((d, i, arr) => x(1 + i * (nIter - 1) / (arr.length - 1)))
    .y(d => y(d));

  g.selectAll('path.trace')
    .data(series)
    .enter()
    .append('path')
    .attr('class', 'trace')
    .attr('d', d => line(d))
    .style('fill', 'none')
    .style('stroke', (d, i) => chainColors[i])
    .style('stroke-width', 1.3);

  // axes
  const yAxis = g.append('g')
    .attr('class', 'y-axis')
    .call(d3.axisLeft(y)
      .tickValues(yTicks[k])
      .tickFormat(d => d.toFixed(yDigits[k]))
      .tickSize(6)
      .tickSizeOuter(0)
      .tickPadding(6));

  const xAxis = g.append('g')
    .attr('class', 'x-axis')
    .attr('transform', `translate(0, ${stripH + plotH})`)
    .call(d3.axisBottom(x)
      .tickValues(xTicks)
      .tickFormat(d3.format('d'))
      .tickSize(6)
      .tickSizeOuter(0)
      .tickPadding(7));

  [yAxis, xAxis].forEach(ax => {
    ax.attr('font-family', serif).attr('font-size', 17);
    ax.select('.domain').style('stroke', '#000').style('stroke-width', 1.6);
    ax.selectAll('.tick line').style('stroke', '#333').style('stroke-width', 1.1);
    ax.selectAll('.tick text')
      .attr('font-family', serif)
      .style('font-size', '17px')
      .style('fill', '#4d4d4d');
  });
});

// legend along the bottom
const legend = svg.append('g')
  .attr('class', 'legend')
  .attr('font-family', serif);

legend.append('text')
  .text('Chain')
  .attr('x', 466)
  .attr('y', 630)
  .style('font-size', '30px')
  .style('fill', '#000');

const keyX = d3.scalePoint().domain(chains).range([564, 854]);

const keys = legend.selectAll('g.key')
  .data(chains)
  .enter()
  .append('g')
  .attr('class', 'key')
  .attr('transform', d => `translate(${keyX(d)}, 620)`);

keys.append('line')
  .attr('x1', 0)
  .attr('x2', 37)
  .attr('y1', 0)
  .attr('y2', 0)
  .style('stroke', (d, i) => chainColors[i])
  .style('stroke-width', 1.4)
  .style('stroke-opacity', 0.8);

keys.append('text')
  .text(d => d)
  .attr('x', 58)
  .attr('y', 10)
  .style('font-size', '30px')
  .style('fill', '#000');
</script>
</body>
</html>
